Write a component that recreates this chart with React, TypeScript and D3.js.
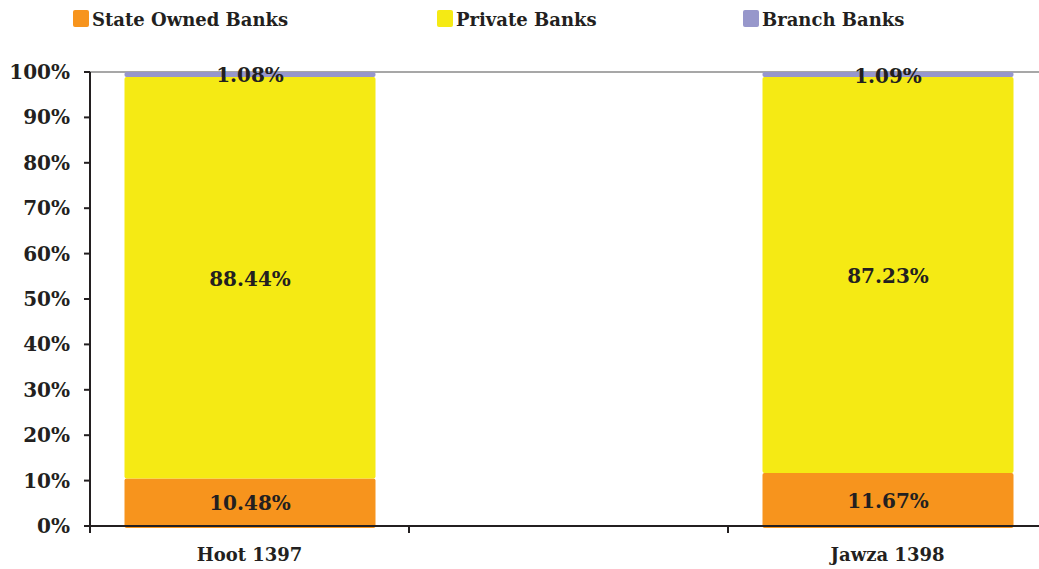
import React from 'react'
import * as d3 from 'd3'

const categories = ['Hoot 1397', '', 'Jawza 1398']
const seriesNames = ['State Owned Banks', 'Private Banks', 'Branch Banks']
const seriesColors = ['#F7941D', '#F5EA14', '#9797CB']
const stateOwned = [10.48, null, 11.67]
const privateBanks = [88.44, null, 87.23]
const branchBanks = [1.08, null, 1.09]
const yTicks = [0, 10, 20, 30, 40, 50, 60, 70, 80, 90, 100]

const FONT = "'DejaVu Serif', 'Liberation Serif', serif"
const TEXT = '#231F20'
const FS = 18

export default function App() {
  const width = 1039
  const height = 569
  const left = 90
  const top = 72
  const bottom = 526

  const x = d3.scaleBand<string>().domain(categories.map((c, i) => c + '#' + i)).range([left, left + 319 * 3]).paddingInner(0).paddingOuter(0)
  const y = d3.scaleLinear().domain([0, 100]).range([bottom, top])

  const rows = categories.map((c, i) => ({
    key: c + '#' + i,
    label: c,
    s0: stateOwned[i],
    s1: privateBanks[i],
    s2: branchBanks[i],
  }))
  const stack = d3.stack<any>().keys(['s0', 's1', 's2']).value((d, k) => d[k] ?? 0)
  const layers = stack(rows)

  const bw = x.bandwidth()
  const barW = 251
  const barOff = (bw - barW) / 2 + 0.5

  const legendX = [73, 437, 743]

  return (
    <svg width={width} height={height} style={{ position: 'absolute', left: 0, top: 0, background: '#fff' }}>
      {/* legend */}
      {seriesNames.map((s, i) => (
        <g key={s} transform={`translate(${legendX[i]},0)`}>
          <rect x={0} y={10} width={16} height={17} rx={2} fill={seriesColors[i]} />
          <text x={19} y={26} fontFamily={FONT} fontWeight="bold" fontSize={FS} fill={TEXT}>{s}</text>
        </g>
      ))}

      {/* top border line */}
      <line x1={left} x2={width} y1={y(100)} y2={y(100)} stroke="#8a8a8a" strokeWidth={1.5} />

      {/* bars */}
      {layers.map((layer, li) => (
        <g key={li}>
          {layer.map((d, j) => {
            const v = (rows[j] as any)[layer.key]
            if (v == null) return null
            const x0 = (x(rows[j].key) ?? 0) + barOff
            const y1 = li === 0 ? y(d[0]) + 2 : y(d[0])
            return (
              <rect key={j} x={x0} y={y(d[1])} width={barW} height={y1 - y(d[1])} fill={seriesColors[li]} rx={2} />
            )
          })}
        </g>
      ))}

      {/* axes */}
      <line x1={left} x2={left} y1={y(100)} y2={bottom} stroke={TEXT} strokeWidth={2} />
      <line x1={left} x2={width} y1={bottom} y2={bottom} stroke={TEXT} strokeWidth={2} />
      {yTicks.map(t => (
        <g key={t}>
          <line x1={left - 6} x2={left} y1={y(t)} y2={y(t)} stroke={TEXT} strokeWidth={2} />
          <text x={70} y={y(t) + 7} textAnchor="end" fontFamily={FONT} fontWeight="bold" fontSize={20} fill={TEXT}>{t}%</text>
        </g>
      ))}
      {categories.map((c, i) => {
        const bx = x(rows[i].key) ?? 0
        return (
          <g key={i}>
            <line x1={bx} x2={bx} y1={bottom} y2={bottom + 7} stroke={TEXT} strokeWidth={2} />
            <text x={bx + bw / 2} y={bottom + 35} textAnchor="middle" fontFamily={FONT} fontWeight="bold" fontSize={FS} fill={TEXT}>{c}</text>
          </g>
        )
      })}

      {/* data labels */}
      {layers.map((layer, li) => (
        <g key={'l' + li}>
          {layer.map((d, j) => {
            const v = (rows[j] as any)[layer.key]
            if (v == null) return null
            const cx = (x(rows[j].key) ?? 0) + barOff + barW / 2
            const cy = (y(d[0]) + y(d[1])) / 2
            return (
              <text key={j} x={cx} y={cy + 8} textAnchor="middle" fontFamily={FONT} fontWeight="bold" fontSize={20} fill={TEXT}>
                {v.toFixed(2)}%
              </text>
            )
          })}
        </g>
      ))}
    </svg>
  )
}
